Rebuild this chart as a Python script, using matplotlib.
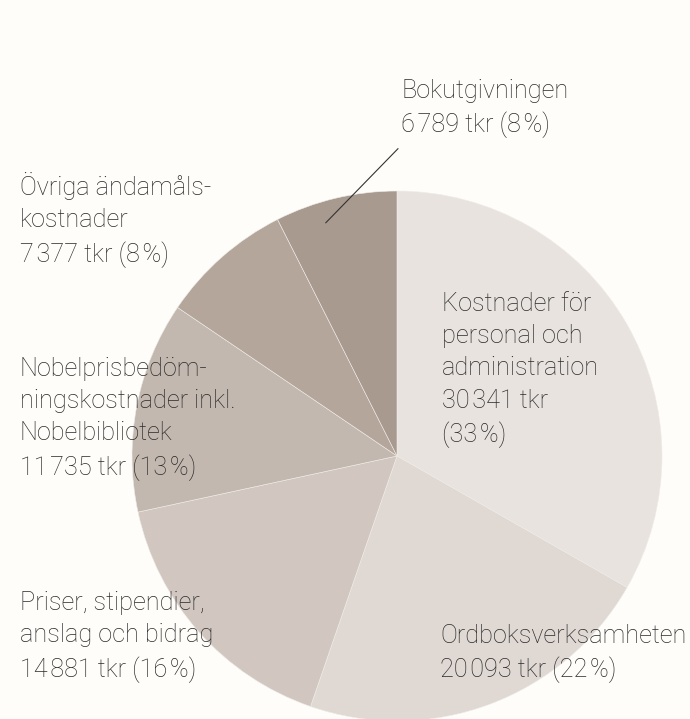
import numpy as np
import matplotlib.pyplot as plt

# data
names = ['Kostnader för\npersonal och\nadministration', 'Ordboksverksamheten',
         'Priser, stipendier,\nanslag och bidrag',
         'Nobelprisbedöm-\nningskostnader inkl.\nNobelbibliotek',
         'Övriga ändamåls-\nkostnader', 'Bokutgivningen']
values = [30341, 20093, 14881, 11735, 7377, 6789]
percents = [33, 22, 16, 13, 8, 8]
colors = ['#e8e3de', '#dfd8d3', '#d1c7c0', '#c3b8af', '#b4a69b', '#a89a8f']

bg = '#fefdf9'
txt_color = '#2a2a2a'

W, H = 690, 719
fig = plt.figure(figsize=(W / 100, H / 100), dpi=100, facecolor=bg)

# pie centre (397, 456) px, radius 265 px
cx, cy, r = 397, 456, 265
ax = fig.add_axes([(cx - r) / W, (H - cy - r) / H, 2 * r / W, 2 * r / H])
ax.set_facecolor(bg)
ax.pie(values, colors=colors, startangle=90, counterclock=False, radius=1,
       wedgeprops=dict(edgecolor='#f0ede8', linewidth=0.4))
ax.set_xlim(-1, 1)
ax.set_ylim(-1, 1)
ax.set_aspect('equal')
ax.axis('off')


def fmt(v):
    return f'{v:,}'.replace(',', '\u200a')


labels = [f'{n}\n{fmt(v)} tkr ({p}\u200a%)' for n, v, p in zip(names, values, percents)]
# Kostnader: percent on its own line
labels[0] = f'{names[0]}\n{fmt(values[0])} tkr\n({percents[0]}\u200a%)'

# label positions (top-left, px)
pos = [(442, 292), (440, 624), (20, 591), (20, 357), (20, 172), (401, 79)]

font = dict(family=['Roboto', 'DejaVu Sans'], weight='light', size=18.2,
            color=txt_color, linespacing=1.43)
for lab, (x, y) in zip(labels, pos):
    fig.text(x / W, 1 - y / H, lab, ha='left', va='top', **font)

# leader line for Bokutgivningen
ang = np.deg2rad(107)
ax.annotate('', xy=(0.92 * np.cos(ang), 0.92 * np.sin(ang)),
            xytext=(0.004, 1.16), annotation_clip=False,
            arrowprops=dict(arrowstyle='-', color='#333333', lw=0.8,
                            shrinkA=0, shrinkB=0))

fig.savefig('out.png', dpi=100, facecolor=bg)
